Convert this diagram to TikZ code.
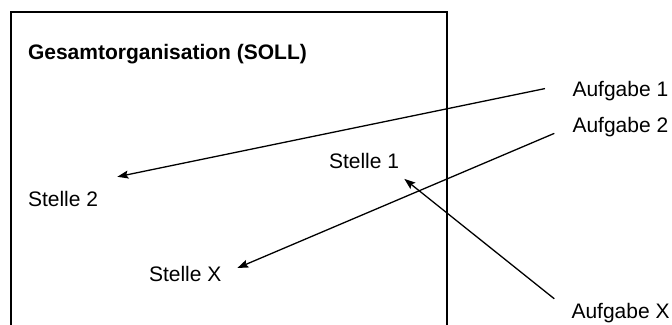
\documentclass[tikz,border=0pt]{standalone}
\usepackage{fontspec}
\setmainfont{Liberation Sans}
\usetikzlibrary{arrows.meta}
\begin{document}
\begin{tikzpicture}[x=1pt,y=-1pt,
  lbl/.style={inner sep=0pt,outer sep=0pt,anchor=base west,font=\fontsize{21}{25}\selectfont},
  ttl/.style={lbl,font=\fontsize{21}{25}\selectfont\bfseries},
  arr/.style={line width=1.3pt,-{Stealth[length=11pt,width=8pt,inset=2pt]}},
  frame/.style={line width=2.3pt}]
\clip (0,0) rectangle (672,324);
\fill[white] (0,0) rectangle (672,324);
\draw[frame] (10.7,340) -- (10.7,12) -- (447,12) -- (447,340);
\node[ttl] (title) at (28,59.5) {Gesamtorganisation (SOLL)};
\node[lbl] (s1) at (329,168) {Stelle 1};
\node[lbl] (s2) at (28,206) {Stelle 2};
\node[lbl] (sx) at (149,281) {Stelle X};
\node[lbl] (a1) at (572.5,96) {Aufgabe 1};
\node[lbl] (a2) at (572.5,132) {Aufgabe 2};
\node[lbl] (ax) at (571.5,318) {Aufgabe X};
\draw[arr] ([xshift=-27.5pt,yshift=2pt]a1.west) -- ([xshift=19.3pt,yshift=14pt]s2.north east);
\draw[arr] ([xshift=-18.2pt,yshift=-6.8pt]a2.west) -- ([xshift=16pt,yshift=5.5pt]sx.east);
\draw[arr] ([xshift=-17.2pt,yshift=13.8pt]ax.west) -- ([xshift=5.3pt,yshift=-10.7pt]s1.south east);
\end{tikzpicture}
\end{document}
